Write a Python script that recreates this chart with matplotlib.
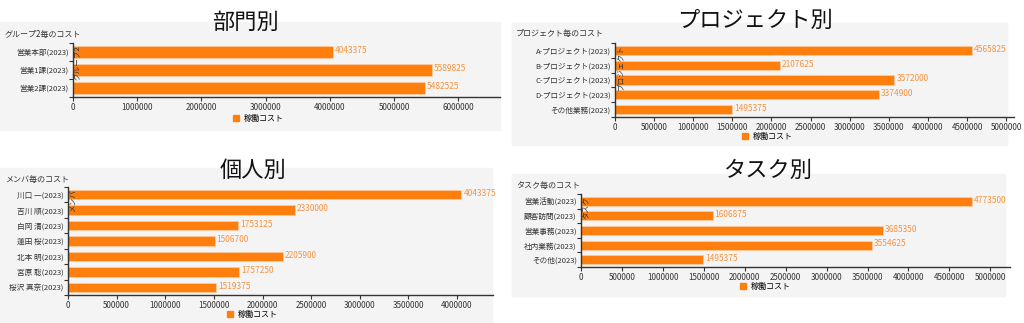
import matplotlib.pyplot as plt
import matplotlib.patches as mpatches

plt.rcParams['font.family'] = ['Noto Sans CJK JP', 'DejaVu Sans']

# データ
dept_names = ['営業本部(2023)', '営業1課(2023)', '営業2課(2023)']
dept_cost = [4043375, 5589825, 5482525]

proj_names = ['A-プロジェクト(2023)', 'B-プロジェクト(2023)', 'C-プロジェクト(2023)',
              'D-プロジェクト(2023)', 'その他業務(2023)']
proj_cost = [4565825, 2107625, 3572000, 3374900, 1495375]

member_names = ['川口 一(2023)', '吉川 順(2023)', '白岡 清(2023)', '蓮田 桜(2023)',
                '北本 明(2023)', '宮原 聡(2023)', '桜沢 真奈(2023)']
member_cost = [4043375, 2330000, 1753125, 1506700, 2205900, 1757250, 1519375]

task_names = ['営業活動(2023)', '顧客訪問(2023)', '営業事務(2023)', '社内業務(2023)', 'その他(2023)']
task_cost = [4773500, 1606875, 3685350, 3554625, 1495375]

W, H = 1024, 323
BAR = '#ff7f0e'
LBL = '#f59340'
fig = plt.figure(figsize=(W / 100, H / 100), dpi=100)


def px(x, y):
    return x / W, 1 - y / H


def panel(box, title, title_xy, sub, sub_xy, ax_box, names, vals, xmax, step,
          ylab, ylab_xy, leg_xy):
    # 背景の灰色
    x0, y0, x1, y1 = box
    fx, fy = px(x0, y1)
    fig.patches.append(mpatches.Rectangle((fx, fy), (x1 - x0) / W, (y1 - y0) / H,
                                          transform=fig.transFigure, color='#f4f4f4',
                                          zorder=-10))
    l, t, r, b = ax_box
    fl, fb = px(l, b)
    ax = fig.add_axes([fl, fb, (r - l) / W, (b - t) / H])
    ax.set_facecolor('none')
    n = len(names)
    pos = list(range(n))
    ax.barh(pos, vals, height=0.62, color=BAR, edgecolor='#ffd2a8', linewidth=0.4)
    ax.set_ylim(n - 0.5, -0.5)
    ax.set_xlim(0, xmax)
    ax.set_yticks([i - 0.5 for i in range(n + 1)])
    ax.set_yticklabels([])
    ax.set_yticks(pos, minor=True)
    ax.set_yticklabels(names, minor=True, fontsize=5.5, color='#333333')
    ax.tick_params(axis='y', which='minor', length=0, pad=3)
    ax.tick_params(axis='y', which='major', length=3, width=0.8, color='#333333')
    ticks = list(range(0, int(xmax) + 1, step))
    ax.set_xticks(ticks)
    ax.set_xticklabels([str(v) for v in ticks], fontsize=5.8, color='#333333')
    ax.tick_params(axis='x', length=3, width=0.8, color='#333333', pad=1)
    for s in ['top', 'right']:
        ax.spines[s].set_visible(False)
    for s in ['left', 'bottom']:
        ax.spines[s].set_color('#333333')
        ax.spines[s].set_linewidth(1.0)
    for i, v in enumerate(vals):
        ax.text(v + xmax * 0.005, i - 0.08, str(v), fontsize=6, color=LBL, va='center')
    # 縦書きの軸名（棒の上に重ねる）
    ax.text(*px(*ylab_xy), ylab, rotation=90, fontsize=5.5, color='#333333',
            ha='left', va='top', transform=fig.transFigure, zorder=10, clip_on=False)
    fig.text(*px(*title_xy), title, fontsize=16, ha='center', va='center', color='#111111')
    fig.text(*px(*sub_xy), sub, fontsize=5.8, ha='left', va='center', color='#333333')
    h = mpatches.Patch(color=BAR, label='稼働コスト')
    ax.legend(handles=[h], loc='center', bbox_to_anchor=px(*leg_xy),
              bbox_transform=fig.transFigure, frameon=False, fontsize=5.8,
              handlelength=0.8, handleheight=0.8, handletextpad=0.5)
    return ax


panel((0, 22, 500, 130), '部門別', (245, 22), 'グループ2毎のコスト', (5, 34),
      (73, 43, 500, 97), dept_names, dept_cost, 6650000, 1000000,
      'グループ2', (74, 45), (258, 118))

panel((512, 23, 1007, 145), 'プロジェクト別', (755, 20), 'プロジェクト毎のコスト', (516, 33),
      (615, 43, 1014, 117), proj_names, proj_cost, 5100000, 500000,
      'プロジェクト', (616, 45), (767, 136))

panel((0, 168, 492, 323), '個人別', (253, 170), 'メンバ毎のコスト', (5, 179),
      (68, 187, 493, 295), member_names, member_cost, 4370000, 500000,
      'メンバ', (69, 189), (252, 314))

panel((512, 174, 1005, 296), 'タスク別', (768, 170), 'タスク毎のコスト', (516, 185),
      (581, 194, 1010, 267), task_names, task_cost, 5240000, 500000,
      'タスク', (582, 196), (765, 286))

fig.savefig('out.png', dpi=100)
